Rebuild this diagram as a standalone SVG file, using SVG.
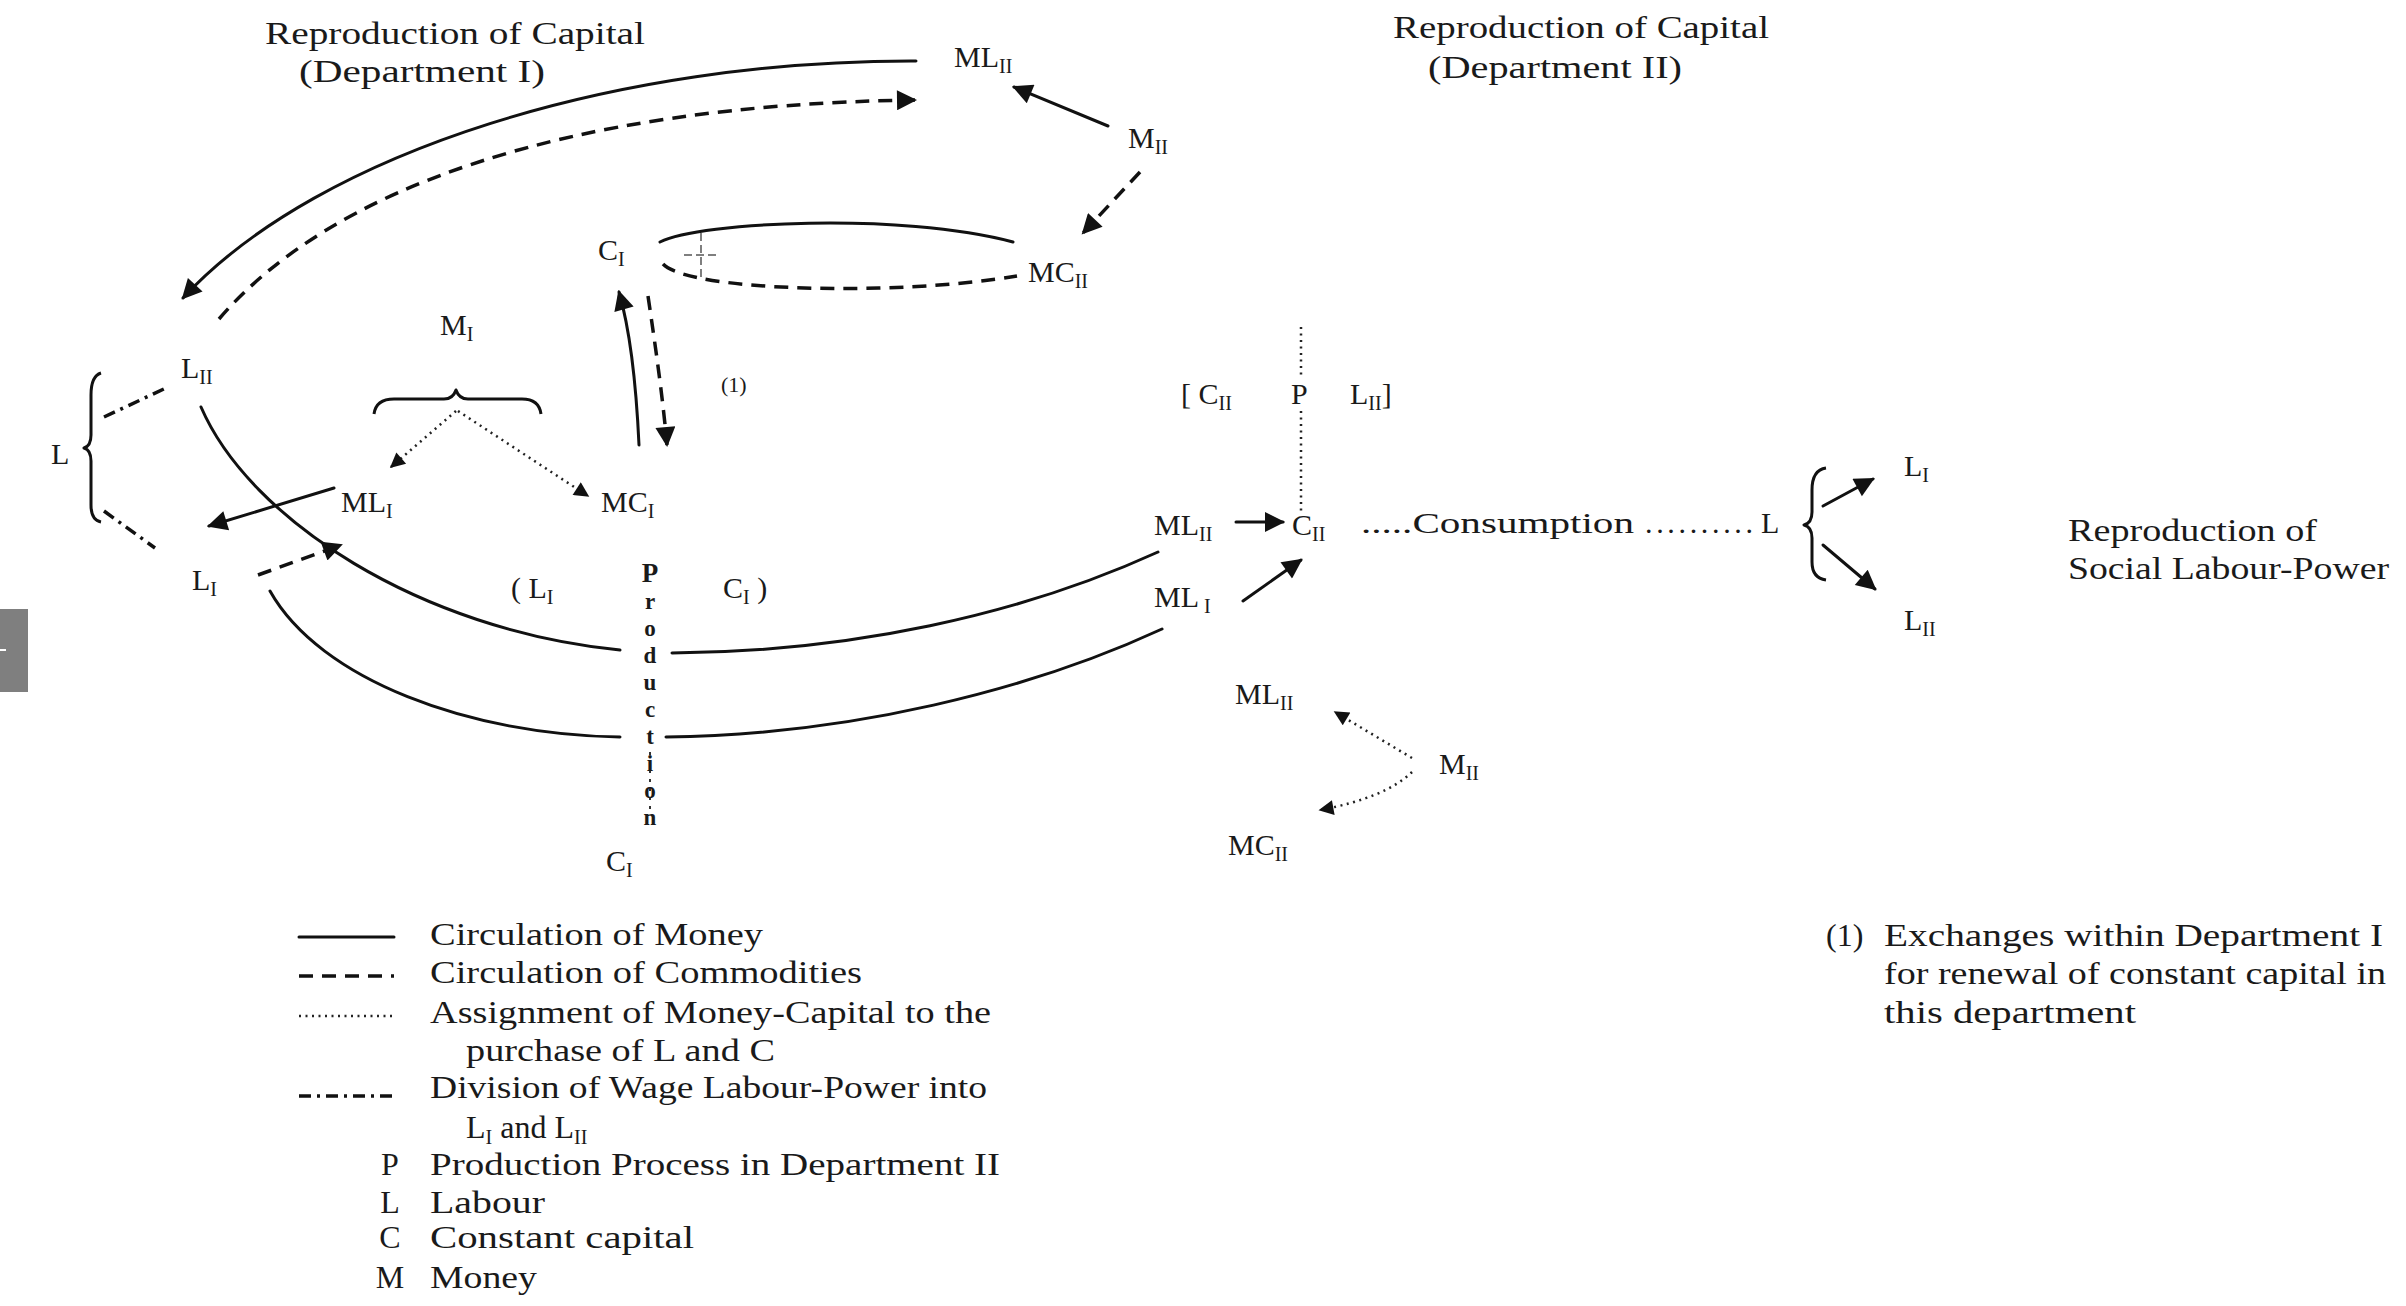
<svg xmlns="http://www.w3.org/2000/svg" width="2406" height="1306" viewBox="0 0 2406 1306">
<style>
.t{font-family:"Liberation Serif","Times New Roman",serif;font-size:32px;fill:#1a1a1a}
.n{font-family:"Liberation Serif","Times New Roman",serif;font-size:30px;fill:#1a1a1a}
.sub{font-size:20px}
.pr{font-family:"Liberation Serif","Times New Roman",serif;font-size:23px;font-weight:bold;fill:#1a1a1a;text-anchor:middle}
.sm{font-family:"Liberation Serif","Times New Roman",serif;font-size:22px;fill:#1a1a1a}
.solid{fill:none;stroke:#111;stroke-width:3;stroke-linecap:round}
.dash{fill:none;stroke:#111;stroke-width:3.5;stroke-dasharray:14 9}
.dot{fill:none;stroke:#222;stroke-width:2.5;stroke-dasharray:2 4.5}
.dashdot{fill:none;stroke:#111;stroke-width:3.5;stroke-dasharray:12 6 3 6}
.brace{fill:none;stroke:#111;stroke-width:3;stroke-linejoin:round}
</style>
<defs>
<marker id="ah" viewBox="0 0 10 10" refX="9" refY="5" markerWidth="24" markerHeight="20" markerUnits="userSpaceOnUse" orient="auto">
<path d="M0,0 L10,5 L0,10 z" fill="#111"/>
</marker>
<marker id="ahs" viewBox="0 0 10 10" refX="9" refY="5" markerWidth="17" markerHeight="15" markerUnits="userSpaceOnUse" orient="auto">
<path d="M0,0 L10,5 L0,10 z" fill="#111"/>
</marker>
</defs>
<rect width="2406" height="1306" fill="#ffffff"/>
<g id="artifacts">
<rect x="0" y="609" width="28" height="83" fill="#7f7f7f"/>
<line x1="0" y1="650" x2="6" y2="650" stroke="#fff" stroke-width="2"/>
<line x1="701" y1="233" x2="701" y2="277" stroke="#555" stroke-width="1.5" stroke-dasharray="8 4"/>
<line x1="684" y1="255" x2="718" y2="255" stroke="#555" stroke-width="1.5" stroke-dasharray="8 4"/>
</g>
<g id="connectors">
<path class="solid" d="M916,61 C620,60 320,150 183,298" marker-end="url(#ah)"/>
<path class="dash" d="M219,319 C330,190 560,105 915,100" marker-end="url(#ah)"/>
<line class="solid" x1="1108" y1="126" x2="1014" y2="87" marker-end="url(#ah)"/>
<line class="dash" x1="1140" y1="172" x2="1083" y2="233" marker-end="url(#ah)"/>
<path class="solid" d="M660,242 C700,222 900,212 1013,242"/>
<path class="dash" d="M663,264 C690,292 900,296 1017,276"/>
<path class="solid" d="M639,445 C636,380 630,330 619,292" marker-end="url(#ah)"/>
<path class="dash" d="M648,296 C656,350 663,400 667,445" marker-end="url(#ah)"/>
<path class="brace" d="M374,414 Q376,399 394,399 L444,399 Q453,399 456,390 Q459,399 468,399 L522,399 Q539,399 541,414"/>
<line class="dot" x1="456" y1="411" x2="391" y2="467" marker-end="url(#ahs)"/>
<line class="dot" x1="458" y1="411" x2="588" y2="496" marker-end="url(#ahs)"/>
<path class="brace" d="M101,373 Q91,376 91,395 L91,435 Q91,446 84,448 Q91,450 91,461 L91,505 Q91,520 101,522"/>
<line class="dashdot" x1="104" y1="417" x2="166" y2="388"/>
<line class="dashdot" x1="104" y1="511" x2="155" y2="548"/>
<line class="solid" x1="334" y1="488" x2="209" y2="526" marker-end="url(#ah)"/>
<line class="dash" x1="258" y1="575" x2="341" y2="545" marker-end="url(#ah)"/>
<path class="solid" d="M201,407 C250,520 420,630 620,650"/>
<path class="solid" d="M672,653 C850,652 1020,615 1158,552"/>
<path class="solid" d="M270,591 C320,680 470,735 620,737"/>
<path class="solid" d="M666,737 C850,735 1030,690 1162,629"/>
<line x1="650" y1="752" x2="650" y2="812" stroke="#333" stroke-width="2" stroke-dasharray="3 6"/>
<line class="dot" x1="1301" y1="327" x2="1301" y2="376"/>
<line class="dot" x1="1301" y1="411" x2="1301" y2="511"/>
<line class="solid" x1="1236" y1="522" x2="1283" y2="522" marker-end="url(#ah)"/>
<line class="solid" x1="1243" y1="601" x2="1301" y2="560" marker-end="url(#ah)"/>
<path class="brace" d="M1826,468 Q1812,470 1812,490 L1812,512 Q1812,523 1804,525 Q1812,527 1812,538 L1812,562 Q1812,578 1826,580"/>
<line class="solid" x1="1823" y1="506" x2="1873" y2="479" marker-end="url(#ah)"/>
<line class="solid" x1="1823" y1="545" x2="1875" y2="589" marker-end="url(#ah)"/>
<line class="dot" x1="1412" y1="758" x2="1335" y2="712" marker-end="url(#ahs)"/>
<path class="dot" d="M1412,772 Q1385,798 1320,810" marker-end="url(#ahs)"/>
</g>
<g id="title-dept1">
<text class="t" x="265" y="44" textLength="380" lengthAdjust="spacingAndGlyphs">Reproduction of Capital</text>
<text class="t" x="299" y="82" textLength="246" lengthAdjust="spacingAndGlyphs">(Department I)</text>
</g>
<g id="title-dept2">
<text class="t" x="1393" y="38" textLength="376" lengthAdjust="spacingAndGlyphs">Reproduction of Capital</text>
<text class="t" x="1428" y="78" textLength="254" lengthAdjust="spacingAndGlyphs">(Department II)</text>
</g>
<g id="node-MLII-top"><text class="n" x="954" y="67">ML<tspan class="sub" dy="6">II</tspan></text></g>
<g id="node-MII-top"><text class="n" x="1128" y="148">M<tspan class="sub" dy="6">II</tspan></text></g>
<g id="node-CI-top"><text class="n" x="598" y="260">C<tspan class="sub" dy="6">I</tspan></text></g>
<g id="node-MCII-top"><text class="n" x="1028" y="282">MC<tspan class="sub" dy="6">II</tspan></text></g>
<g id="node-MI"><text class="n" x="440" y="335">M<tspan class="sub" dy="6">I</tspan></text></g>
<g id="node-LII-left"><text class="n" x="181" y="378">L<tspan class="sub" dy="6">II</tspan></text></g>
<g id="note-1"><text class="sm" x="721" y="392">(1)</text></g>
<g id="node-L-left"><text class="n" x="51" y="464">L</text></g>
<g id="node-MLI"><text class="n" x="341" y="512">ML<tspan class="sub" dy="6">I</tspan></text></g>
<g id="node-MCI"><text class="n" x="601" y="512">MC<tspan class="sub" dy="6">I</tspan></text></g>
<g id="node-LI-left"><text class="n" x="192" y="590">L<tspan class="sub" dy="6">I</tspan></text></g>
<g id="node-production-I">
<text class="n" x="511" y="598">( L<tspan class="sub" dy="6">I</tspan></text>
<text class="n" x="723" y="598">C<tspan class="sub" dy="6">I</tspan><tspan dy="-6"> )</tspan></text>
<text class="pr"><tspan x="650" y="582" font-size="27">P</tspan><tspan x="650" y="609">r</tspan><tspan x="650" y="636">o</tspan><tspan x="650" y="663">d</tspan><tspan x="650" y="690">u</tspan><tspan x="650" y="717">c</tspan><tspan x="650" y="744">t</tspan><tspan x="650" y="771">i</tspan><tspan x="650" y="798">o</tspan><tspan x="650" y="825">n</tspan></text>
</g>
<g id="node-CI-bottom"><text class="n" x="606" y="871">C<tspan class="sub" dy="6">I</tspan></text></g>
<g id="node-production-II">
<text class="n" x="1181" y="404">[ C<tspan class="sub" dy="6">II</tspan></text>
<text class="n" x="1291" y="404">P</text>
<text class="n" x="1350" y="404">L<tspan class="sub" dy="6">II</tspan><tspan dy="-6">]</tspan></text>
</g>
<g id="node-MLII-mid"><text class="n" x="1154" y="535">ML<tspan class="sub" dy="6">II</tspan></text></g>
<g id="node-CII"><text class="n" x="1292" y="535">C<tspan class="sub" dy="6">II</tspan></text></g>
<g id="node-consumption">
<text class="n" x="1361" y="533" textLength="273" lengthAdjust="spacingAndGlyphs">.....Consumption</text>
<text class="n" x="1645" y="533" textLength="108" lengthAdjust="spacing">..........</text>
<text class="n" x="1761" y="533">L</text>
</g>
<g id="node-MLI-right"><text class="n" x="1154" y="607">ML<tspan class="sub" dy="6"> I</tspan></text></g>
<g id="node-LI-right"><text class="n" x="1904" y="476">L<tspan class="sub" dy="6">I</tspan></text></g>
<g id="node-LII-right"><text class="n" x="1904" y="630">L<tspan class="sub" dy="6">II</tspan></text></g>
<g id="title-labour">
<text class="t" x="2068" y="541" textLength="249" lengthAdjust="spacingAndGlyphs">Reproduction of</text>
<text class="t" x="2068" y="579" textLength="321" lengthAdjust="spacingAndGlyphs">Social Labour-Power</text>
</g>
<g id="node-MLII-low"><text class="n" x="1235" y="704">ML<tspan class="sub" dy="6">II</tspan></text></g>
<g id="node-MII-low"><text class="n" x="1439" y="774">M<tspan class="sub" dy="6">II</tspan></text></g>
<g id="node-MCII-low"><text class="n" x="1228" y="855">MC<tspan class="sub" dy="6">II</tspan></text></g>
<g id="legend">
<line class="solid" x1="299" y1="937" x2="394" y2="937"/>
<line class="dash" x1="299" y1="976" x2="394" y2="976" stroke-dasharray="12 6"/>
<line class="dot" x1="299" y1="1016" x2="394" y2="1016"/>
<line class="dashdot" x1="299" y1="1096" x2="394" y2="1096"/>
<text class="t" x="430" y="945" textLength="333" lengthAdjust="spacingAndGlyphs">Circulation of Money</text>
<text class="t" x="430" y="983" textLength="432" lengthAdjust="spacingAndGlyphs">Circulation of Commodities</text>
<text class="t" x="430" y="1023" textLength="561" lengthAdjust="spacingAndGlyphs">Assignment of Money-Capital to the</text>
<text class="t" x="466" y="1061" textLength="309" lengthAdjust="spacingAndGlyphs">purchase of L and C</text>
<text class="t" x="430" y="1098" textLength="557" lengthAdjust="spacingAndGlyphs">Division of Wage Labour-Power into</text>
<text class="t" x="466" y="1138">L<tspan class="sub" dy="6">I</tspan><tspan dy="-6"> and L</tspan><tspan class="sub" dy="6">II</tspan></text>
<text class="t" x="390" y="1175" text-anchor="middle">P</text>
<text class="t" x="430" y="1175" textLength="570" lengthAdjust="spacingAndGlyphs">Production Process in Department II</text>
<text class="t" x="390" y="1213" text-anchor="middle">L</text>
<text class="t" x="430" y="1213" textLength="115" lengthAdjust="spacingAndGlyphs">Labour</text>
<text class="t" x="390" y="1248" text-anchor="middle">C</text>
<text class="t" x="430" y="1248" textLength="264" lengthAdjust="spacingAndGlyphs">Constant capital</text>
<text class="t" x="390" y="1288" text-anchor="middle">M</text>
<text class="t" x="430" y="1288" textLength="107" lengthAdjust="spacingAndGlyphs">Money</text>
</g>
<g id="footnote">
<text class="t" x="1826" y="946">(1)</text>
<text class="t" x="1884" y="946" textLength="499" lengthAdjust="spacingAndGlyphs">Exchanges within Department I</text>
<text class="t" x="1884" y="984" textLength="502" lengthAdjust="spacingAndGlyphs">for renewal of constant capital in</text>
<text class="t" x="1884" y="1023" textLength="252" lengthAdjust="spacingAndGlyphs">this department</text>
</g>
</svg>
